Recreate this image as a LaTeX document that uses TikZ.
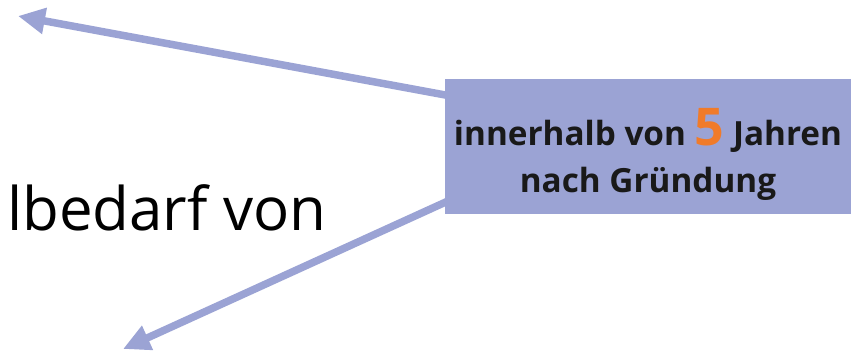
\documentclass[tikz,border=0pt]{standalone}
\usepackage{fontspec}
\setmainfont{Open Sans}
\usetikzlibrary{arrows.meta}
\definecolor{boxblue}{HTML}{9BA3D4}
\definecolor{numorange}{HTML}{F07B2A}
\tikzset{
  infobox/.style={fill=boxblue, draw=none, minimum width=406pt, minimum height=135pt, inner sep=0pt},
  boxtext/.style={inner sep=0pt, align=center, font=\fontsize{33.3}{47}\selectfont\bfseries, text=black!90},
  bigarrow/.style={draw=boxblue, line width=7.5pt, -{Triangle[length=27pt,width=25pt]}},
  bigtext/.style={font=\fontsize{60}{70}\selectfont, anchor=base west, inner sep=0pt}
}
\begin{document}
\begin{tikzpicture}[x=1pt,y=-1pt]
\useasboundingbox (0,0) rectangle (854,353);
\node[bigtext] (lbl) at (7,230) {lbedarf von};
\coordinate (t1) at (18,16);
\coordinate (t2) at (123,349);
\coordinate (s1) at (448,95.5);
\coordinate (s2) at (448,201);
\draw[bigarrow] (s1) -- (t1);
\draw[bigarrow] (s2) -- (t2);
\node[infobox] (box) at (648,146.5) {};
\node[boxtext] (boxtxt) at (648,154) {innerhalb von {\color{numorange}\fontsize{52}{47}\selectfont 5} Jahren\\nach Gründung};
\end{tikzpicture}
\end{document}
